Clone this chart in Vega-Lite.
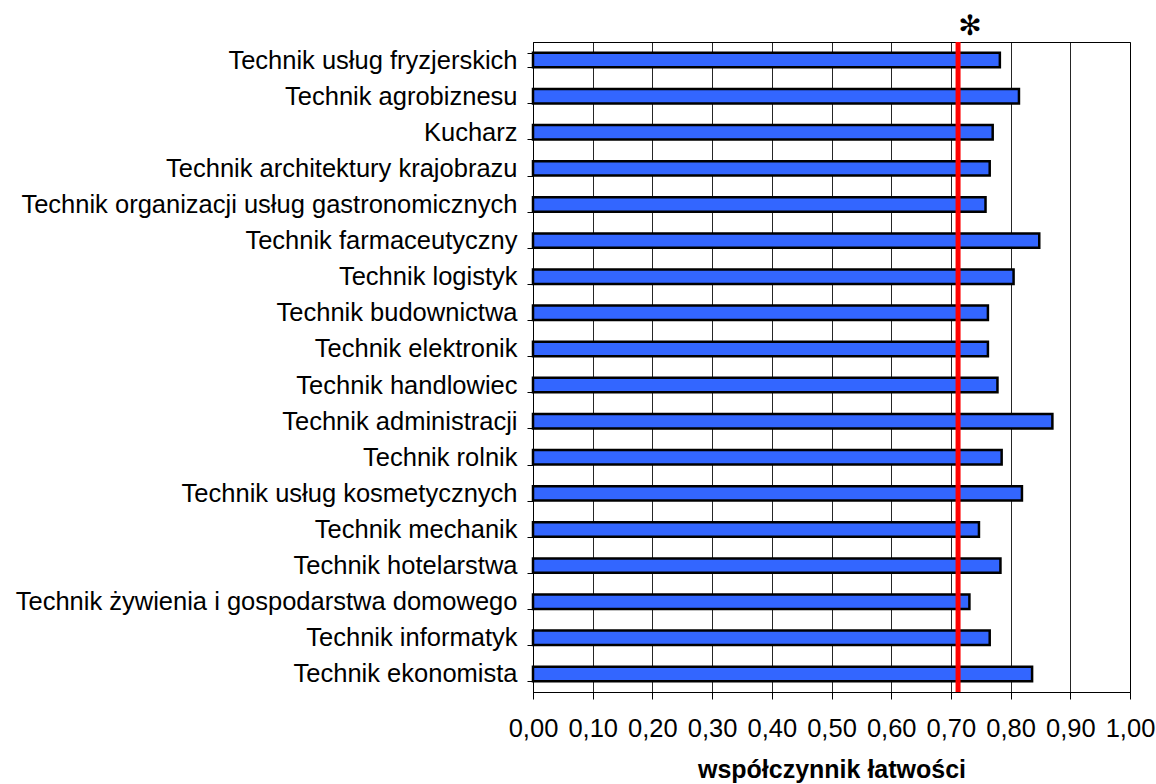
{
  "$schema": "https://vega.github.io/schema/vega-lite/v6.json",
  "autosize": {"type": "none"},
  "width": 597,
  "height": 650,
  "padding": {"left": 533, "top": 42, "right": 26, "bottom": 92},
  "background": "white",
  "config": {
    "view": {"stroke": "#000", "strokeWidth": 1},
    "font": "Liberation Sans"
  },
  "datasets": {
    "bars": [
      {"zawod": "Technik usług fryzjerskich", "wsp": 0.782},
      {"zawod": "Technik agrobiznesu", "wsp": 0.814},
      {"zawod": "Kucharz", "wsp": 0.770},
      {"zawod": "Technik architektury krajobrazu", "wsp": 0.765},
      {"zawod": "Technik organizacji usług gastronomicznych", "wsp": 0.758},
      {"zawod": "Technik farmaceutyczny", "wsp": 0.848},
      {"zawod": "Technik logistyk", "wsp": 0.805},
      {"zawod": "Technik budownictwa", "wsp": 0.762},
      {"zawod": "Technik elektronik", "wsp": 0.762},
      {"zawod": "Technik handlowiec", "wsp": 0.778},
      {"zawod": "Technik administracji", "wsp": 0.870},
      {"zawod": "Technik rolnik", "wsp": 0.785},
      {"zawod": "Technik usług kosmetycznych", "wsp": 0.819},
      {"zawod": "Technik mechanik", "wsp": 0.747},
      {"zawod": "Technik hotelarstwa", "wsp": 0.783},
      {"zawod": "Technik żywienia i gospodarstwa domowego", "wsp": 0.731},
      {"zawod": "Technik informatyk", "wsp": 0.765},
      {"zawod": "Technik ekonomista", "wsp": 0.836}
    ],
    "ref": [{"prog": 0.712, "znak": "✻", "pierwszy": "Technik usług fryzjerskich"}]
  },
  "layer": [
    {
      "data": {"name": "bars"},
      "mark": {"type": "bar", "fill": "#3366ff", "stroke": "#000", "strokeWidth": 2.5},
      "encoding": {
        "y": {
          "field": "zawod",
          "type": "nominal",
          "sort": null,
          "scale": {"paddingInner": 0.6, "paddingOuter": 0.3},
          "axis": {
            "title": null,
            "tickBand": "extent",
            "tickSize": 6,
            "tickColor": "#000",
            "domainColor": "#000",
            "labelFont": "Liberation Sans",
            "labelFontSize": 25.5,
            "labelColor": "#000",
            "labelPadding": 10,
            "labelLimit": 0
          }
        },
        "x": {
          "field": "wsp",
          "type": "quantitative",
          "scale": {"domain": [0, 1], "nice": false},
          "axis": {
            "values": [0, 0.1, 0.2, 0.3, 0.4, 0.5, 0.6, 0.7, 0.8, 0.9, 1],
            "labelExpr": "replace(format(datum.value, '.2f'), '.', ',')",
            "grid": true,
            "gridColor": "#000",
            "gridOpacity": 0.85,
            "tickSize": 7,
            "tickColor": "#000",
            "domainColor": "#000",
            "labelFont": "Liberation Sans",
            "labelFontSize": 25.5,
            "labelColor": "#000",
            "labelPadding": 17,
            "labelFlush": false,
            "labelOverlap": false,
            "title": "współczynnik łatwości",
            "titleFont": "Liberation Sans",
            "titleFontSize": 25,
            "titleFontWeight": "bold",
            "titleColor": "#000",
            "titlePadding": 16
          }
        }
      }
    },
    {
      "data": {"name": "ref"},
      "mark": {"type": "rule", "color": "#ff0000", "strokeWidth": 5},
      "encoding": {
        "x": {"field": "prog", "type": "quantitative"}
      }
    },
    {
      "data": {"name": "ref"},
      "mark": {"type": "text", "fontSize": 28, "font": "DejaVu Sans", "color": "#000", "baseline": "middle", "align": "center", "dx": 12, "dy": -26},
      "encoding": {
        "x": {"field": "prog", "type": "quantitative"},
        "y": {"field": "pierwszy", "type": "nominal", "sort": null, "bandPosition": 0},
        "text": {"field": "znak"}
      }
    }
  ]
}
